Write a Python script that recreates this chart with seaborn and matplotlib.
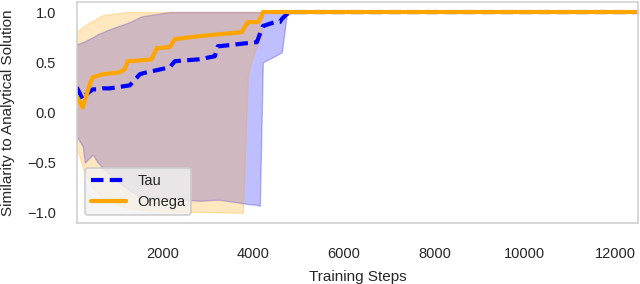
import numpy as np
import pandas as pd
import seaborn as sns
from matplotlib import pyplot as plt

sns.set_style("whitegrid")
plt.rcParams['font.family'] = ['Liberation Sans', 'DejaVu Sans']

# Tau: mean and band
tau_steps = [100, 232, 276, 453, 564, 674, 829, 1271, 1492, 1558, 2155, 2265, 2818,
             3150, 3216, 3260, 3857, 4078, 4144, 4210, 4475, 4586, 4630, 4740, 4900,
             6000, 12500]
tau_mean = [0.25, 0.13, 0.17, 0.23, 0.23, 0.24, 0.24, 0.27, 0.38, 0.39, 0.45, 0.51, 0.53,
            0.56, 0.66, 0.66, 0.69, 0.70, 0.78, 0.86, 0.90, 0.90, 0.93, 0.98, 1.0,
            1.0, 1.0]
tau_hi = [0.68, 0.70, 0.71, 0.75, 0.78, 0.80, 0.83, 0.90, 0.95, 0.96, 1.0, 1.0, 1.0,
          1.0, 1.0, 1.0, 1.0, 1.0, 1.0, 1.0, 1.0, 1.0, 1.0, 1.0, 1.0,
          1.0, 1.0]
tau_lo = [-0.24, -0.34, -0.50, -0.42, -0.50, -0.55, -0.62, -0.78, -0.83, -0.85, -0.86, -0.86, -0.88,
          -0.87, -0.87, -0.87, -0.91, -0.92, -0.93, 0.50, 0.56, 0.59, 0.60, 0.98, 0.99,
          1.0, 1.0]

# Omega: mean and band
omega_steps = [100, 232, 387, 453, 674, 1050, 1160, 1227, 1558, 1757, 1867, 2155, 2265,
               2818, 3746, 3768, 3879, 3923, 4100, 4188, 4210, 5000, 12500]
omega_mean = [0.16, 0.05, 0.28, 0.35, 0.38, 0.40, 0.43, 0.51, 0.52, 0.53, 0.64, 0.65, 0.73,
              0.76, 0.80, 0.82, 0.90, 0.90, 0.90, 0.96, 1.0, 1.0, 1.0]
omega_hi = [0.80, 0.85, 0.90, 0.91, 0.97, 0.99, 1.0, 1.0, 1.0, 1.0, 1.0, 1.0, 1.0,
            1.0, 1.0, 1.0, 1.0, 1.0, 1.0, 1.0, 1.0, 1.0, 1.0]
omega_lo = [-0.35, -0.55, -0.70, -0.75, -0.85, -0.92, -0.94, -0.95, -0.97, -0.98, -0.98, -0.99, -0.99,
            -0.99, -1.0, -1.0, 0.35, 0.46, 0.70, 0.76, 1.0, 1.0, 1.0]

df_tau = pd.DataFrame({'step': tau_steps, 'value': tau_mean})
df_omega = pd.DataFrame({'step': omega_steps, 'value': omega_mean})

fig, ax = plt.subplots(figsize=(6.4, 2.84), dpi=100)
fig.subplots_adjust(left=0.12, right=0.997, top=0.993, bottom=0.215)

# bands first (tau, then omega on top of it)
ax.fill_between(tau_steps, tau_lo, tau_hi, color='blue', alpha=0.25)
ax.fill_between(omega_steps, omega_lo, omega_hi, color='orange', alpha=0.25)

sns.lineplot(data=df_tau, x='step', y='value', color='blue', lw=3,
             ax=ax, label='Tau').lines[-1].set_dashes((3, 1.5))
sns.lineplot(data=df_omega, x='step', y='value', color='orange', lw=3,
             ax=ax, label='Omega')

ax.grid(False)
ax.set_xlim(100, 12500)
ax.set_ylim(-1.1, 1.1)
ax.set_xticks([2000, 4000, 6000, 8000, 10000, 12000])
ax.set_yticks([-1.0, -0.5, 0.0, 0.5, 1.0])
ax.tick_params(axis='both', length=0, labelsize=10.5)
ax.tick_params(axis='x', pad=17)
ax.tick_params(axis='y', pad=15)
for s in ax.spines.values():
    s.set_color('0.82')
    s.set_linewidth(1.2)
ax.set_xlabel('Training Steps', fontsize=11, labelpad=7)
ax.set_ylabel('Similarity to Analytical Solution', fontsize=11, labelpad=9)

leg = ax.legend(loc='lower left', fontsize=10.5, handlelength=2.4, frameon=True,
                borderaxespad=0.55, facecolor='0.95')
leg.get_frame().set_edgecolor('0.8')
leg.get_frame().set_linewidth(1.5)

fig.savefig('out.png', dpi=100)
